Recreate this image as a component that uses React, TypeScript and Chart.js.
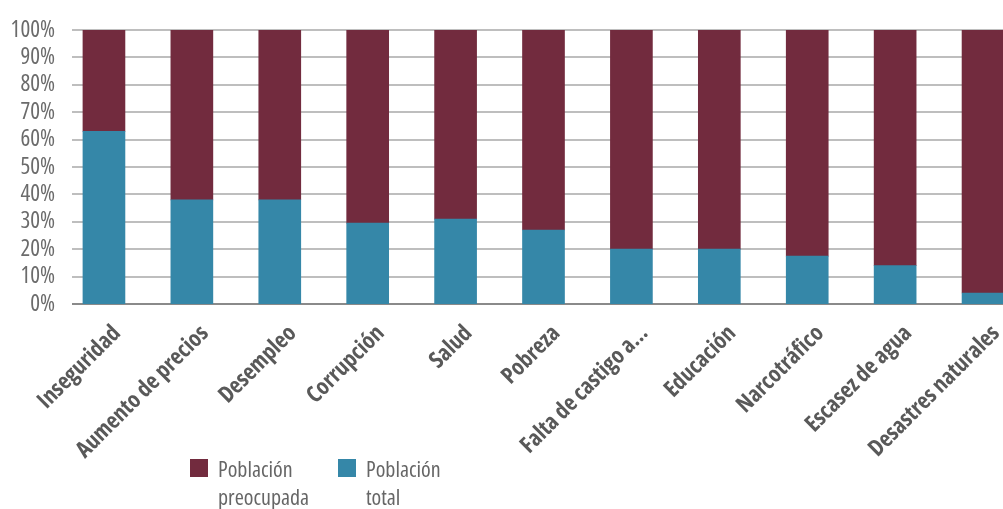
import React, { useEffect, useRef } from "react";
import { Chart, registerables } from "chart.js";

Chart.register(...registerables);

const categories = [
  "Inseguridad",
  "Aumento de precios",
  "Desempleo",
  "Corrupción",
  "Salud",
  "Pobreza",
  "Falta de castigo a…",
  "Educación",
  "Narcotráfico",
  "Escasez de agua",
  "Desastres naturales",
];

const poblacionTotal = [63, 38, 38, 29.5, 31, 27, 20, 20, 17.5, 14, 4];
const poblacionPreocupada = [37, 62, 62, 70.5, 69, 73, 80, 80, 82.5, 86, 96];

const seriesNames = ["Población total", "Población preocupada"];
const legendLines = [
  ["Población", "preocupada"],
  ["Población", "total"],
];

const TEAL = "#3587a8";
const MAROON = "#722b3e";
const FONT = "'Open Sans', 'DejaVu Sans', sans-serif";
const GRID_LEFT = 72;

const gridPlugin = {
  id: "gridFromLeft",
  beforeDatasetsDraw(chart: any) {
    const { ctx, chartArea, scales } = chart;
    const y = scales.y;
    ctx.save();
    y.ticks.forEach((t: any) => {
      const py = Math.round(y.getPixelForValue(t.value));
      ctx.strokeStyle = t.value === 0 ? "#8a8a8a" : "#a8a8a8";
      ctx.lineWidth = t.value === 0 ? 2 : 1.5;
      ctx.beginPath();
      ctx.moveTo(GRID_LEFT, py);
      ctx.lineTo(chartArea.right, py);
      ctx.stroke();
    });
    ctx.restore();
  },
};

export default function App() {
  const ref = useRef<HTMLCanvasElement | null>(null);

  useEffect(() => {
    if (!ref.current) return;
    const chart = new Chart(ref.current, {
      type: "bar",
      data: {
        labels: categories,
        datasets: [
          {
            label: seriesNames[0],
            data: poblacionTotal,
            backgroundColor: TEAL,
            barThickness: 42,
          },
          {
            label: seriesNames[1],
            data: poblacionPreocupada,
            backgroundColor: MAROON,
            barThickness: 42,
          },
        ],
      },
      options: {
        responsive: false,
        animation: false,
        layout: { padding: { top: 30, right: 1, left: 0, bottom: 0 } },
        plugins: {
          legend: { display: false },
          tooltip: { enabled: false },
        },
        scales: {
          x: {
            stacked: true,
            offset: true,
            grid: { display: false, drawTicks: false },
            border: { display: false },
            ticks: {
              autoSkip: false,
              maxRotation: 45,
              minRotation: 45,
              padding: 16,
              labelOffset: 13,
              color: "#595959",
              font: { family: FONT, size: 23, weight: "bold condensed" as any },
            },
            afterFit(scale: any) {
              scale.height = 205;
            },
          },
          y: {
            stacked: true,
            min: 0,
            max: 100,
            grid: { display: false, drawTicks: false },
            border: { display: false },
            ticks: {
              stepSize: 10,
              autoSkip: false,
              padding: 5,
              color: "#6b6b6b",
              font: { family: FONT, size: 23, weight: "normal condensed" as any },
              callback: (v: any) => `${v}%`,
            },
            afterFit(scale: any) {
              scale.width = 60;
            },
          },
        },
      },
      plugins: [gridPlugin],
    });
    return () => chart.destroy();
  }, []);

  const legendColors = [MAROON, TEAL];
  const legendX = [190, 338];

  return (
    <div
      style={{
        position: "fixed",
        left: 0,
        top: 0,
        width: 1003,
        height: 509,
        overflow: "hidden",
        background: "#fff",
      }}
    >
      <canvas ref={ref} width={1028} height={509} style={{ width: 1028, height: 509, display: "block" }} />
      {legendLines.map((lines, i) => (
        <div
          key={i}
          style={{
            position: "absolute",
            left: legendX[i],
            top: 454,
            display: "flex",
            alignItems: "flex-start",
            fontFamily: FONT,
            fontStretch: "condensed",
            fontSize: 22,
            lineHeight: "28px",
            color: "#666666",
          }}
        >
          <div style={{ width: 18, height: 18, background: legendColors[i], marginTop: 5, marginRight: 10 }} />
          <div>
            {lines.map((l, j) => (
              <div key={j}>{l}</div>
            ))}
          </div>
        </div>
      ))}
    </div>
  );
}
